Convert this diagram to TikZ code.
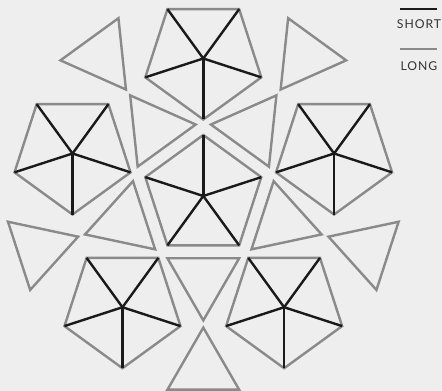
\documentclass[tikz,border=0pt]{standalone}
\usepackage{fontspec}
\setmainfont{Lato}
\newfontfamily\legendfont[LetterSpace=8]{Lato}
\definecolor{bgc}{HTML}{EEEEEE}
\definecolor{greyc}{HTML}{8A8A8A}
\definecolor{blackc}{HTML}{1A1A1A}
\definecolor{textc}{HTML}{333333}
\begin{document}
\begin{tikzpicture}[x=1pt,y=1pt,
  longedge/.style={draw=greyc, line width=2.4pt},
  shortedge/.style={draw=blackc, line width=2.4pt},
  legendtext/.style={text=textc, font=\legendfont\fontsize{12.2}{13}\selectfont, inner sep=0pt}]
\fill[bgc] (0,0) rectangle (442,391);
\useasboundingbox (0,0) rectangle (442,391);
\coordinate (C) at (203.3,195);
% central pentagon
\foreach \k in {0,...,4}{
  \coordinate (P0v\k) at ([shift={({90+72*\k}:61)}]C);
}
\draw[longedge] (P0v0) -- (P0v1) -- (P0v2) -- (P0v3) -- (P0v4) -- cycle;
\foreach \k in {0,...,4}{ \draw[shortedge] (C) -- (P0v\k); }
% outer pentagons
\foreach \i in {1,...,5}{
  \pgfmathsetmacro{\th}{90+72*(\i-1)}
  \coordinate (P\i c) at ([shift={(\th:137.5)}]C);
  \foreach \k in {0,...,4}{
    \coordinate (P\i v\k) at ([shift={({\th+180+72*\k}:61)}]P\i c);
  }
  \draw[longedge] (P\i v0) -- (P\i v1) -- (P\i v2) -- (P\i v3) -- (P\i v4) -- cycle;
  \foreach \k in {0,...,4}{ \draw[shortedge] (P\i c) -- (P\i v\k); }
}
% triangles
\foreach \i in {0,...,4}{
  \pgfmathsetmacro{\ph}{126+72*\i}
  \coordinate (Ti\i c) at ([shift={(\ph:83)}]C);
  \coordinate (To\i c) at ([shift={(\ph:173)}]C);
  \foreach \j in {0,1,2}{
    \coordinate (Ti\i v\j) at ([shift={({\ph+120*\j}:41.4)}]Ti\i c);
    \coordinate (To\i v\j) at ([shift={({\ph+180+120*\j}:41.4)}]To\i c);
  }
  \draw[longedge] (Ti\i v0) -- (Ti\i v1) -- (Ti\i v2) -- cycle;
  \draw[longedge] (To\i v0) -- (To\i v1) -- (To\i v2) -- cycle;
}
% legend
\coordinate (LSa) at (400,382);
\coordinate (LSb) at (437,382);
\coordinate (LLa) at (400,342);
\coordinate (LLb) at (437,342);
\draw[shortedge] (LSa) -- (LSb);
\draw[longedge] (LLa) -- (LLb);
\node[legendtext] (ls) at (419,367) {SHORT};
\node[legendtext] (ll) at (419,325) {LONG};
\end{tikzpicture}
\end{document}
